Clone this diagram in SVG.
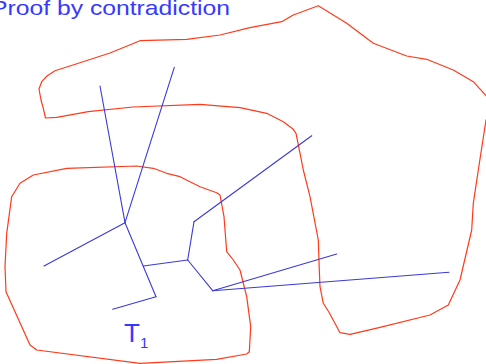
<svg xmlns="http://www.w3.org/2000/svg" width="486" height="364" viewBox="0 0 486 364">
<style>
.region{fill:none;stroke:#ff3a1a;stroke-width:1.2;stroke-linejoin:round}
.edge{stroke:#3a3ad8;stroke-width:1.1;stroke-linecap:round;fill:none}
.lbl{font-family:"Liberation Sans",Arial,sans-serif;fill:#3838ff}
</style>
<rect width="486" height="364" fill="#fff"/>
<text class="lbl" x="-9" y="14.5" font-size="21" textLength="239" lengthAdjust="spacingAndGlyphs">Proof by contradiction</text>
<g id="region-big">
<polygon class="region" points="45.5,118 43.3,108.3 41,100 39,89 41.7,81.7 47,76 55,70.7 73,65 110,53 140,40.7 186.7,39.3 220,35 250,27.7 281.7,21.7 293.3,15 318.3,5.7 346.7,23.3 373.3,43.3 406.7,56 426.7,59.3 453.3,70 473.3,81.7 490,100 490,115 486,120 478.3,170 473.3,203.3 471.7,230 460,280 448.3,305 430,315 380,327.3 350,334.3 340,332.7 329.3,312.7 323.3,303.3 320,286.7 319.3,270 318.3,240 310,196.7 303.3,170 300.7,156.7 296,133.3 293.3,129.3 283.3,121.7 266.7,113.3 240,107.7 200,104.3 133,107 88.3,111.7 56.7,117.3"/>
</g>
<g id="region-T1">
<polygon class="region" points="11.7,196.7 20,183.3 33.3,175 66.7,168.3 136.7,166 153.3,168.3 166.7,173.3 180,176.7 200,186.7 216.7,192.7 220,195 224,216.7 226.7,251.7 233.3,260 240,270 246.7,296.7 250.7,326.7 249.3,351.7 246.7,354 216.7,359.3 140,363.3 36.7,350 30,345 6,291.7 5,266.7 6.7,233.3"/>
</g>
<g id="connectors">
<line class="edge" x1="100" y1="86" x2="125" y2="222.7"/>
<line class="edge" x1="174.3" y1="67.3" x2="125" y2="222.7"/>
<line class="edge" x1="125" y1="222.7" x2="44" y2="266"/>
<line class="edge" x1="125" y1="222.7" x2="156" y2="296.7"/>
<line class="edge" x1="156" y1="296.7" x2="112.7" y2="309.3"/>
<line class="edge" x1="143.3" y1="266" x2="187.7" y2="260"/>
<line class="edge" x1="187.7" y1="260" x2="194" y2="221.7"/>
<line class="edge" x1="194" y1="221.7" x2="311.7" y2="135.7"/>
<line class="edge" x1="187.7" y1="260" x2="212.7" y2="290.7"/>
<line class="edge" x1="212.7" y1="290.7" x2="336.7" y2="254"/>
<line class="edge" x1="212.7" y1="290.7" x2="449" y2="272.3"/>
</g>
<g id="label-T1">
<text class="lbl" x="124" y="342" font-size="26">T</text>
<text class="lbl" x="140" y="348" font-size="15">1</text>
</g>
</svg>
